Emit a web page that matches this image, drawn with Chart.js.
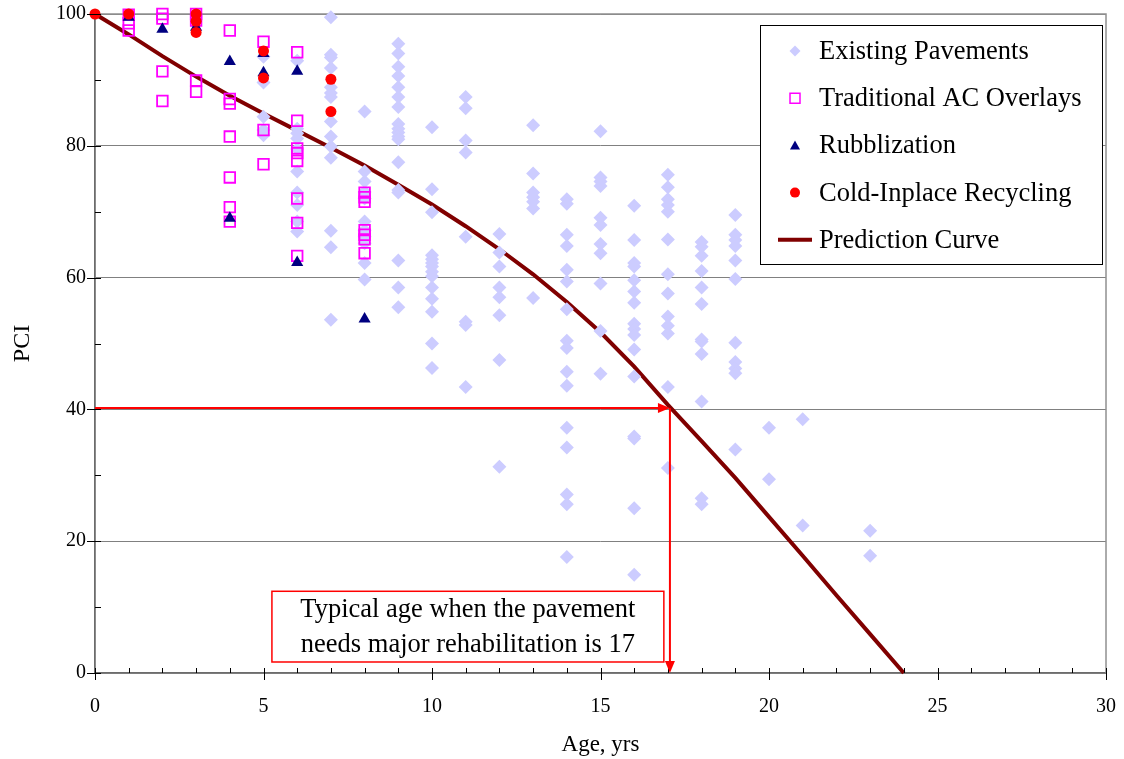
<!DOCTYPE html>
<html>
<head>
<meta charset="utf-8">
<script src="https://cdn.jsdelivr.net/npm/chart.js@4.4.1/dist/chart.umd.min.js"></script>
<style>
  html, body { margin: 0; padding: 0; background: #fff; }
  #wrap { width: 1124px; height: 759px; }
</style>
</head>
<body>
<div id="wrap"><canvas id="pciChart" width="1124" height="759"></canvas></div>
<script>
// Existing pavements: [age, PCI]
const existingPavements = [
    [5, 93.5], [5, 89.6], [5, 84.4], [5, 82.4], [5, 81.6],
    [6, 92.9], [6, 82.6], [6, 81.9], [6, 81.1], [6, 79.5], [6, 76.1], [6, 72.9], [6, 71], [6, 68.5], [6, 67],
    [7, 99.5], [7, 93.8], [7, 93.4], [7, 91.8], [7, 88.9], [7, 88], [7, 87.4], [7, 83.7], [7, 81.4], [7, 79.9], [7, 78.2], [7, 67.1], [7, 64.6], [7, 53.6],
    [8, 85.2], [8, 76.1], [8, 74.6], [8, 73], [8, 72], [8, 68.5], [8, 67.2], [8, 66.2], [8, 65.2], [8, 62.2], [8, 59.7],
    [9, 95.5], [9, 94], [9, 92], [9, 90.6], [9, 88.9], [9, 87.4], [9, 85.9], [9, 83.3], [9, 82.6], [9, 82], [9, 81.4], [9, 81], [9, 77.5], [9, 73.3], [9, 72.9], [9, 62.6], [9, 58.5], [9, 55.5],
    [10, 82.8], [10, 73.4], [10, 69.9], [10, 63.4], [10, 62.8], [10, 62.2], [10, 61.7], [10, 60.9], [10, 60.2], [10, 58.5], [10, 56.8], [10, 54.8], [10, 50], [10, 46.3],
    [11, 87.4], [11, 85.7], [11, 80.8], [11, 79], [11, 66.2], [11, 53.3], [11, 52.8], [11, 43.4],
    [12, 66.6], [12, 63.8], [12, 61.7], [12, 58.5], [12, 57], [12, 54.3], [12, 47.5], [12, 31.3],
    [13, 83.1], [13, 75.8], [13, 72.9], [13, 72.2], [13, 71.5], [13, 70.5], [13, 56.9],
    [14, 71.9], [14, 71.2], [14, 66.5], [14, 64.8], [14, 61.2], [14, 59.4], [14, 55.2], [14, 50.4], [14, 49.3], [14, 45.7], [14, 43.6], [14, 37.2], [14, 34.2], [14, 27.1], [14, 25.6], [14, 17.6],
    [15, 82.2], [15, 75.2], [15, 74.6], [15, 73.9], [15, 69.1], [15, 68], [15, 65.1], [15, 63.7], [15, 59.1], [15, 51.9], [15, 45.4],
    [16, 70.9], [16, 65.7], [16, 62.2], [16, 61.7], [16, 59.6], [16, 57.9], [16, 56.2], [16, 53], [16, 52.2], [16, 51.3], [16, 49.1], [16, 45], [16, 35.9], [16, 35.6], [16, 25], [16, 14.9],
    [17, 75.6], [17, 73.7], [17, 71.9], [17, 71], [17, 70], [17, 65.8], [17, 60.5], [17, 57.6], [17, 54.1], [17, 52.7], [17, 51.5], [17, 43.4], [17, 31.1],
    [18, 65.4], [18, 64.7], [18, 63.3], [18, 61], [18, 58.5], [18, 56], [18, 50.6], [18, 50.3], [18, 48.4], [18, 41.2], [18, 26.5], [18, 25.6],
    [19, 69.5], [19, 66.5], [19, 65.7], [19, 64.8], [19, 62.6], [19, 59.8], [19, 50.1], [19, 47.2], [19, 46.2], [19, 45.5], [19, 33.9],
    [20, 37.2], [20, 29.4],
    [21, 38.5], [21, 22.4],
    [23, 21.6], [23, 17.8]
];

const acOverlays = [
    [1, 99.9], [1, 98.6], [1, 97.5],
    [2, 100], [2, 99.3], [2, 91.3], [2, 86.8],
    [3, 100], [3, 99], [3, 89.9], [3, 88.2],
    [4, 97.5], [4, 87.1], [4, 86.4], [4, 81.4], [4, 75.2], [4, 70.7], [4, 68.5],
    [5, 95.8], [5, 82.4], [5, 77.2],
    [6, 94.2], [6, 83.8], [6, 79.6], [6, 78.9], [6, 77.7], [6, 72], [6, 68.3], [6, 63.3],
    [8, 72.9], [8, 72.2], [8, 71.5], [8, 67.2], [8, 66.5], [8, 65.8], [8, 63.7]
];

const rubblization = [
    [1, 99.5], [2, 97.7], [3, 98], [4, 92.8], [4, 69], [5, 94], [5, 91.1], [6, 91.3], [6, 62.3], [8, 53.7]
];

const coldRecycling = [
    [0, 100], [1, 100], [3, 100], [3, 98.9], [3, 97.2], [5, 94.4], [5, 90.3], [7, 90.1], [7, 85.2]
];

// Кривая прогноза
const curveAges = [0, 1, 2, 3, 4, 5, 6, 7, 8, 9, 10, 11, 12, 13, 14, 15, 16, 17, 18, 19, 20, 21, 22, 23, 24];
const curvePci = [100, 96.9, 93.6, 90.5, 87.6, 84.9, 82.3, 79.7, 77.0, 74.1, 71.1, 67.8, 64.3, 60.5, 56.3, 51.7, 46.5, 40.7, 35.2, 29.6, 23.7, 17.8, 11.8, 5.9, 0];

// Аннотация
const rehabAge = 17.06;
const rehabPci = 40.2;
const noteLines = ['Typical age when the pavement', 'needs major rehabilitation is 17'];
const seriesNames = ['Existing Pavements', 'Traditional AC Overlays', 'Rubblization', 'Cold-Inplace Recycling', 'Prediction Curve'];

const serif = "'Liberation Serif', 'Times New Roman', serif";
const toPoints = arr => arr.map(p => ({ x: p[0], y: p[1] }));

function markerPath(ctx, type, x, y, r) {
    ctx.beginPath();
    if (type === 'diamond') {
        ctx.moveTo(x, y - r); ctx.lineTo(x + r, y); ctx.lineTo(x, y + r); ctx.lineTo(x - r, y);
        ctx.closePath();
    } else if (type === 'square') {
        ctx.rect(x - r, y - r, 2 * r, 2 * r);
    } else if (type === 'triangle') {
        ctx.moveTo(x, y - r); ctx.lineTo(x + r, y + r * 0.8); ctx.lineTo(x - r, y + r * 0.8);
        ctx.closePath();
    } else {
        ctx.arc(x, y, r, 0, Math.PI * 2);
    }
}

const decorPlugin = {
    id: 'decor',
    beforeDatasetsDraw(chart) {
        const { ctx, chartArea: a } = chart;
        ctx.save();
        ctx.strokeStyle = '#909090';
        ctx.lineWidth = 1.5;
        ctx.strokeRect(a.left, a.top, a.right - a.left, a.bottom - a.top);
        ctx.restore();
    },
    afterDraw(chart) {
        const { ctx, chartArea: a } = chart;
        const xs = chart.scales.x, ys = chart.scales.y;
        ctx.save();

        // Засечки осей: основные пересекают ось, промежуточные внутри
        ctx.strokeStyle = '#000';
        ctx.lineWidth = 1;
        for (let v = 0; v <= 30; v++) {
            const px = Math.round(xs.getPixelForValue(v)) + 0.5;
            ctx.beginPath();
            ctx.moveTo(px, a.bottom - 5);
            ctx.lineTo(px, a.bottom + (v % 5 === 0 ? 7 : 0));
            ctx.stroke();
        }
        for (let v = 0; v <= 100; v += 10) {
            const py = Math.round(ys.getPixelForValue(v)) + 0.5;
            ctx.beginPath();
            ctx.moveTo(a.left - (v % 20 === 0 ? 8 : 0), py);
            ctx.lineTo(a.left + 6, py);
            ctx.stroke();
        }

        // Стрелки
        const ax = xs.getPixelForValue(rehabAge);
        const ay = ys.getPixelForValue(rehabPci);
        ctx.strokeStyle = '#ff0000';
        ctx.fillStyle = '#ff0000';
        ctx.lineWidth = 2;
        ctx.beginPath();
        ctx.moveTo(a.left, ay);
        ctx.lineTo(ax - 10, ay);
        ctx.stroke();
        ctx.beginPath();
        ctx.moveTo(ax, ay); ctx.lineTo(ax - 12, ay - 5); ctx.lineTo(ax - 12, ay + 5);
        ctx.closePath(); ctx.fill();
        ctx.beginPath();
        ctx.moveTo(ax, ay);
        ctx.lineTo(ax, a.bottom - 10);
        ctx.stroke();
        ctx.beginPath();
        ctx.moveTo(ax, a.bottom); ctx.lineTo(ax - 5, a.bottom - 12); ctx.lineTo(ax + 5, a.bottom - 12);
        ctx.closePath(); ctx.fill();

        // Подпись в рамке
        const bl = xs.getPixelForValue(5.25), br = xs.getPixelForValue(16.88);
        const bt = ys.getPixelForValue(12.4), bb = ys.getPixelForValue(1.67);
        ctx.fillStyle = '#fff';
        ctx.fillRect(bl, bt, br - bl, bb - bt);
        ctx.lineWidth = 1.5;
        ctx.strokeRect(bl, bt, br - bl, bb - bt);
        ctx.fillStyle = '#000';
        ctx.font = '26.5px ' + serif;
        ctx.textAlign = 'center';
        ctx.textBaseline = 'middle';
        const cx = (bl + br) / 2;
        ctx.fillText(noteLines[0], cx, bt + 19);
        ctx.fillText(noteLines[1], cx, bt + 54);

        // Легенда
        const lx = 760, ly = 25, lw = 342, lh = 239;
        ctx.fillStyle = '#fff';
        ctx.fillRect(lx, ly, lw, lh);
        ctx.strokeStyle = '#000';
        ctx.lineWidth = 1;
        ctx.strokeRect(lx + 0.5, ly + 0.5, lw, lh);
        ctx.font = '26.5px ' + serif;
        ctx.textAlign = 'left';
        chart.data.datasets.forEach((ds, i) => {
            const rowY = ly + 26 + i * 47.2;
            const mx = lx + 35;
            if (ds.type === 'line') {
                ctx.strokeStyle = ds.borderColor;
                ctx.lineWidth = 4;
                ctx.beginPath();
                ctx.moveTo(mx - 17, rowY); ctx.lineTo(mx + 17, rowY);
                ctx.stroke();
            } else {
                const type = ds.legendMarker;
                const r = type === 'diamond' ? 5.5 : 5;
                markerPath(ctx, type, mx, rowY, r);
                if (type === 'square') {
                    ctx.strokeStyle = ds.borderColor;
                    ctx.lineWidth = 1.5;
                    ctx.stroke();
                } else {
                    ctx.fillStyle = ds.backgroundColor;
                    ctx.fill();
                }
            }
            ctx.fillStyle = '#000';
            ctx.fillText(ds.label, lx + 59, rowY + 1);
        });
        ctx.restore();
    }
};

const ctx = document.getElementById('pciChart').getContext('2d');
new Chart(ctx, {
    type: 'scatter',
    data: {
        datasets: [
            {
                label: seriesNames[0],
                data: toPoints(existingPavements),
                pointStyle: 'rectRot',
                legendMarker: 'diamond',
                pointRadius: 7,
                backgroundColor: '#ccccff',
                borderColor: '#ccccff',
                borderWidth: 0,
                order: 5
            },
            {
                label: seriesNames[1],
                data: toPoints(acOverlays),
                pointStyle: 'rect',
                legendMarker: 'square',
                pointRadius: 7.5,
                backgroundColor: 'rgba(0,0,0,0)',
                borderColor: '#ff00ff',
                borderWidth: 1.8,
                order: 4
            },
            {
                label: seriesNames[2],
                data: toPoints(rubblization),
                pointStyle: 'triangle',
                legendMarker: 'triangle',
                pointRadius: 7,
                backgroundColor: '#000080',
                borderColor: '#000080',
                borderWidth: 0,
                order: 3
            },
            {
                label: seriesNames[3],
                data: toPoints(coldRecycling),
                pointStyle: 'circle',
                legendMarker: 'circle',
                pointRadius: 5.5,
                backgroundColor: '#ff0000',
                borderColor: '#ff0000',
                borderWidth: 0,
                order: 2
            },
            {
                type: 'line',
                label: seriesNames[4],
                data: curveAges.map((a, i) => ({ x: a, y: curvePci[i] })),
                borderColor: '#800000',
                borderWidth: 4,
                pointRadius: 0,
                fill: false,
                tension: 0,
                order: 6
            }
        ]
    },
    options: {
        responsive: false,
        animation: false,
        clip: false,
        layout: { padding: { left: 0, right: 18, top: 14, bottom: 0 } },
        plugins: {
            legend: { display: false },
            tooltip: { enabled: false }
        },
        scales: {
            x: {
                type: 'linear',
                min: 0,
                max: 30,
                afterFit: s => {
                    s.height = 86;
                    s.paddingLeft = 0; s.paddingRight = 0;
                },
                ticks: {
                    stepSize: 1,
                    autoSkip: false,
                    maxRotation: 0,
                    padding: 22,
                    color: '#000',
                    font: { family: serif, size: 20 },
                    callback: v => (v % 5 === 0 ? String(v) : '')
                },
                grid: { display: false, drawTicks: false },
                border: { display: true, color: '#000', width: 1.5 },
                title: {
                    display: true,
                    text: 'Age, yrs',
                    color: '#000',
                    font: { family: serif, size: 23 },
                    padding: { top: 2, bottom: 0 }
                }
            },
            y: {
                type: 'linear',
                min: 0,
                max: 100,
                afterFit: s => {
                    s.width = 95;
                    s.paddingTop = 0; s.paddingBottom = 0;
                },
                ticks: {
                    stepSize: 10,
                    autoSkip: false,
                    padding: 9,
                    color: '#000',
                    font: { family: serif, size: 20 },
                    callback: v => (v % 20 === 0 ? String(v) : '')
                },
                grid: {
                    drawTicks: false,
                    color: c => (c.tick && c.tick.value % 20 === 0 ? '#808080' : 'rgba(0,0,0,0)'),
                    lineWidth: 1
                },
                border: { display: true, color: '#000', width: 1.5 },
                title: {
                    display: true,
                    text: 'PCI',
                    color: '#000',
                    font: { family: serif, size: 24 },
                    padding: { top: 8, bottom: 0 }
                }
            }
        }
    },
    plugins: [decorPlugin]
});
</script>
</body>
</html>
